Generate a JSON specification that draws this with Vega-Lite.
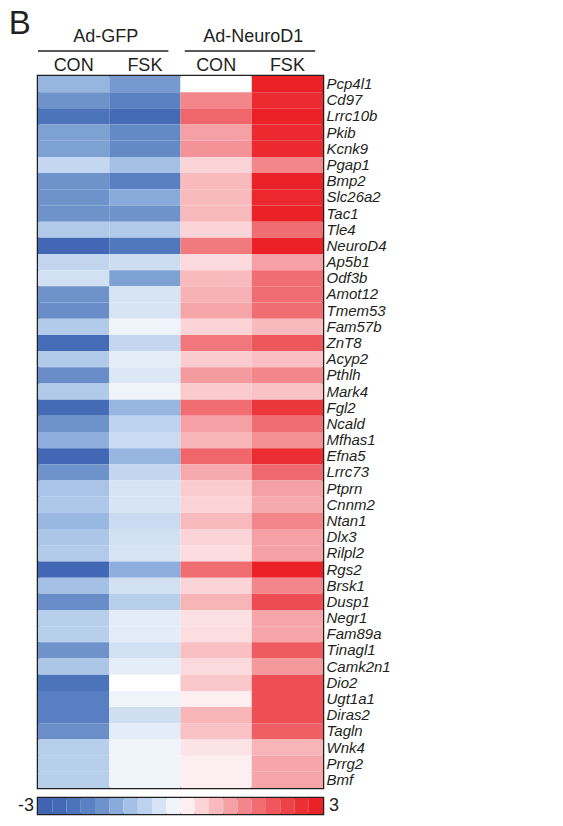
{
  "$schema": "https://vega.github.io/schema/vega-lite/v6.json",
  "padding": {"left": 8, "top": 8, "right": 0, "bottom": 0},
  "background": "white",
  "spacing": 5,
  "config": {
    "view": {"stroke": null},
    "font": "Liberation Sans",
    "text": {"color": "#231f20", "font": "Liberation Sans"}
  },
  "datasets": {
    "expr": [
      {"gene": "Pcp4l1", "GFP_CON": -1.2, "GFP_FSK": -1.56, "ND_CON": 0, "ND_FSK": 2.85},
      {"gene": "Cd97", "GFP_CON": -1.65, "GFP_FSK": -1.95, "ND_CON": 1.35, "ND_FSK": 2.65},
      {"gene": "Lrrc10b", "GFP_CON": -2.25, "GFP_FSK": -2.5, "ND_CON": 1.75, "ND_FSK": 2.85},
      {"gene": "Pkib", "GFP_CON": -1.47, "GFP_FSK": -1.8, "ND_CON": 1.05, "ND_FSK": 2.7},
      {"gene": "Kcnk9", "GFP_CON": -1.47, "GFP_FSK": -1.8, "ND_CON": 1.2, "ND_FSK": 2.7},
      {"gene": "Pgap1", "GFP_CON": -0.66, "GFP_FSK": -1.05, "ND_CON": 0.45, "ND_FSK": 1.35},
      {"gene": "Bmp2", "GFP_CON": -1.65, "GFP_FSK": -2.0, "ND_CON": 0.75, "ND_FSK": 2.85},
      {"gene": "Slc26a2", "GFP_CON": -1.65, "GFP_FSK": -1.35, "ND_CON": 0.75, "ND_FSK": 2.73},
      {"gene": "Tac1", "GFP_CON": -1.65, "GFP_FSK": -1.65, "ND_CON": 0.75, "ND_FSK": 2.85},
      {"gene": "Tle4", "GFP_CON": -0.9, "GFP_FSK": -0.9, "ND_CON": 0.45, "ND_FSK": 1.65},
      {"gene": "NeuroD4", "GFP_CON": -2.6, "GFP_FSK": -2.15, "ND_CON": 1.5, "ND_FSK": 2.85},
      {"gene": "Ap5b1", "GFP_CON": -0.7, "GFP_FSK": -0.57, "ND_CON": 0.39, "ND_FSK": 1.05},
      {"gene": "Odf3b", "GFP_CON": -0.51, "GFP_FSK": -1.47, "ND_CON": 0.75, "ND_FSK": 1.65},
      {"gene": "Amot12", "GFP_CON": -1.65, "GFP_FSK": -0.45, "ND_CON": 0.84, "ND_FSK": 1.65},
      {"gene": "Tmem53", "GFP_CON": -1.74, "GFP_FSK": -0.45, "ND_CON": 0.99, "ND_FSK": 1.65},
      {"gene": "Fam57b", "GFP_CON": -0.87, "GFP_FSK": -0.15, "ND_CON": 0.45, "ND_FSK": 0.75},
      {"gene": "ZnT8", "GFP_CON": -2.46, "GFP_FSK": -0.66, "ND_CON": 1.53, "ND_FSK": 1.95},
      {"gene": "Acyp2", "GFP_CON": -0.9, "GFP_FSK": -0.27, "ND_CON": 0.54, "ND_FSK": 0.69},
      {"gene": "Pthlh", "GFP_CON": -1.74, "GFP_FSK": -0.39, "ND_CON": 1.11, "ND_FSK": 1.35},
      {"gene": "Mark4", "GFP_CON": -0.9, "GFP_FSK": -0.15, "ND_CON": 0.57, "ND_FSK": 0.66},
      {"gene": "Fgl2", "GFP_CON": -2.5, "GFP_FSK": -1.2, "ND_CON": 1.65, "ND_FSK": 2.46},
      {"gene": "Ncald", "GFP_CON": -1.65, "GFP_FSK": -0.75, "ND_CON": 1.05, "ND_FSK": 1.65},
      {"gene": "Mfhas1", "GFP_CON": -1.29, "GFP_FSK": -0.6, "ND_CON": 0.81, "ND_FSK": 1.23},
      {"gene": "Efna5", "GFP_CON": -2.6, "GFP_FSK": -1.2, "ND_CON": 1.74, "ND_FSK": 2.61},
      {"gene": "Lrrc73", "GFP_CON": -1.65, "GFP_FSK": -0.69, "ND_CON": 0.93, "ND_FSK": 1.71},
      {"gene": "Ptprn", "GFP_CON": -0.99, "GFP_FSK": -0.45, "ND_CON": 0.54, "ND_FSK": 1.05},
      {"gene": "Cnnm2", "GFP_CON": -0.93, "GFP_FSK": -0.45, "ND_CON": 0.45, "ND_FSK": 0.93},
      {"gene": "Ntan1", "GFP_CON": -1.17, "GFP_FSK": -0.6, "ND_CON": 0.75, "ND_FSK": 1.35},
      {"gene": "Dlx3", "GFP_CON": -0.96, "GFP_FSK": -0.51, "ND_CON": 0.45, "ND_FSK": 1.05},
      {"gene": "Rilpl2", "GFP_CON": -0.87, "GFP_FSK": -0.45, "ND_CON": 0.36, "ND_FSK": 1.05},
      {"gene": "Rgs2", "GFP_CON": -2.6, "GFP_FSK": -1.29, "ND_CON": 1.65, "ND_FSK": 2.85},
      {"gene": "Brsk1", "GFP_CON": -1.05, "GFP_FSK": -0.51, "ND_CON": 0.45, "ND_FSK": 1.35},
      {"gene": "Dusp1", "GFP_CON": -1.74, "GFP_FSK": -0.81, "ND_CON": 0.81, "ND_FSK": 2.1},
      {"gene": "Negr1", "GFP_CON": -0.81, "GFP_FSK": -0.3, "ND_CON": 0.3, "ND_FSK": 0.99},
      {"gene": "Fam89a", "GFP_CON": -0.81, "GFP_FSK": -0.3, "ND_CON": 0.33, "ND_FSK": 0.99},
      {"gene": "Tinagl1", "GFP_CON": -1.65, "GFP_FSK": -0.51, "ND_CON": 0.69, "ND_FSK": 1.89},
      {"gene": "Camk2n1", "GFP_CON": -0.96, "GFP_FSK": -0.27, "ND_CON": 0.39, "ND_FSK": 1.14},
      {"gene": "Dio2", "GFP_CON": -2.25, "GFP_FSK": 0, "ND_CON": 0.6, "ND_FSK": 2.07},
      {"gene": "Ugt1a1", "GFP_CON": -2.01, "GFP_FSK": -0.15, "ND_CON": 0.15, "ND_FSK": 2.07},
      {"gene": "Diras2", "GFP_CON": -2.01, "GFP_FSK": -0.54, "ND_CON": 0.81, "ND_FSK": 2.07},
      {"gene": "Tagln", "GFP_CON": -1.71, "GFP_FSK": -0.3, "ND_CON": 0.66, "ND_FSK": 1.83},
      {"gene": "Wnk4", "GFP_CON": -0.81, "GFP_FSK": -0.15, "ND_CON": 0.27, "ND_FSK": 0.81},
      {"gene": "Prrg2", "GFP_CON": -0.81, "GFP_FSK": -0.15, "ND_CON": 0.15, "ND_FSK": 0.99},
      {"gene": "Bmf", "GFP_CON": -0.81, "GFP_FSK": -0.15, "ND_CON": 0.15, "ND_FSK": 0.99}
    ],
    "groups": [
      {"t": "Ad-GFP", "x": 0.95, "lvl": 1},
      {"t": "Ad-NeuroD1", "x": 3.02, "lvl": 1}
    ],
    "panel": [
      {"t": "B", "x": -0.41, "lvl": 1}
    ],
    "lines": [
      {"x": 0.0, "x2": 1.83, "lvl": 0},
      {"x": 2.06, "x2": 3.89, "lvl": 0}
    ],
    "bins": [
      {"lo": -3.0, "hi": -2.7, "mid": -2.85},
      {"lo": -2.7, "hi": -2.4, "mid": -2.55},
      {"lo": -2.4, "hi": -2.1, "mid": -2.25},
      {"lo": -2.1, "hi": -1.8, "mid": -1.95},
      {"lo": -1.8, "hi": -1.5, "mid": -1.65},
      {"lo": -1.5, "hi": -1.2, "mid": -1.35},
      {"lo": -1.2, "hi": -0.9, "mid": -1.05},
      {"lo": -0.9, "hi": -0.6, "mid": -0.75},
      {"lo": -0.6, "hi": -0.3, "mid": -0.45},
      {"lo": -0.3, "hi": 0.0, "mid": -0.15},
      {"lo": 0.0, "hi": 0.3, "mid": 0.15},
      {"lo": 0.3, "hi": 0.6, "mid": 0.45},
      {"lo": 0.6, "hi": 0.9, "mid": 0.75},
      {"lo": 0.9, "hi": 1.2, "mid": 1.05},
      {"lo": 1.2, "hi": 1.5, "mid": 1.35},
      {"lo": 1.5, "hi": 1.8, "mid": 1.65},
      {"lo": 1.8, "hi": 2.1, "mid": 1.95},
      {"lo": 2.1, "hi": 2.4, "mid": 2.25},
      {"lo": 2.4, "hi": 2.7, "mid": 2.55},
      {"lo": 2.7, "hi": 3.0, "mid": 2.85}
    ],
    "endsLeft": [{"t": "-3", "x": -3}],
    "endsRight": [{"t": "3", "x": 3}]
  },
  "vconcat": [
    {
      "spacing": 2,
      "vconcat": [
        {
          "width": 285,
          "height": 9,
          "layer": [
            {
              "data": {"name": "panel"},
              "mark": {"type": "text", "fontSize": 33, "baseline": "alphabetic", "align": "left", "dy": -8, "color": "#231f20"},
              "encoding": {
                "x": {"field": "x", "type": "quantitative", "scale": {"domain": [0, 4], "nice": false, "zero": false}, "axis": null},
                "y": {"field": "lvl", "type": "quantitative", "scale": {"domain": [0, 1], "nice": false}, "axis": null},
                "text": {"field": "t"}
              }
            },
            {
              "data": {"name": "groups"},
              "mark": {"type": "text", "fontSize": 18, "baseline": "alphabetic", "align": "center", "color": "#231f20"},
              "encoding": {
                "x": {"field": "x", "type": "quantitative"},
                "y": {"field": "lvl", "type": "quantitative"},
                "text": {"field": "t"}
              }
            },
            {
              "data": {"name": "lines"},
              "mark": {"type": "rule", "strokeWidth": 1.5, "color": "#231f20"},
              "encoding": {
                "x": {"field": "x", "type": "quantitative"},
                "x2": {"field": "x2"},
                "y": {"field": "lvl", "type": "quantitative"}
              }
            }
          ]
        },
        {
          "width": 285,
          "height": 712,
          "view": {"stroke": "#231f20", "strokeWidth": 2.5},
          "data": {"name": "expr"},
          "transform": [{"fold": ["GFP_CON", "GFP_FSK", "ND_CON", "ND_FSK"], "as": ["cond", "z"]}],
          "mark": {"type": "rect"},
          "encoding": {
            "x": {
              "field": "cond", "type": "nominal",
              "sort": ["GFP_CON", "GFP_FSK", "ND_CON", "ND_FSK"],
              "scale": {"paddingInner": 0, "paddingOuter": 0},
              "axis": {"orient": "top", "title": null, "labelAngle": 0, "domain": false, "ticks": false, "labelFontSize": 18, "labelPadding": 2, "labelExpr": "split(datum.value, '_')[1]", "labelColor": "#231f20", "labelFont": "Liberation Sans"}
            },
            "y": {
              "field": "gene", "type": "nominal", "sort": null,
              "scale": {"paddingInner": 0, "paddingOuter": 0},
              "axis": {"orient": "right", "title": null, "domain": false, "ticks": false, "labelFontSize": 15, "labelFontStyle": "italic", "labelPadding": 3, "labelColor": "#231f20", "labelFont": "Liberation Sans"}
            },
            "color": {
              "field": "z", "type": "quantitative",
              "scale": {
                "type": "linear", "interpolate": "rgb", "clamp": true,
                "domain": [-2.85, -2.55, -2.25, -1.95, -1.65, -1.35, -1.05, -0.75, -0.45, -0.15, 0, 0.15, 0.45, 0.75, 1.05, 1.35, 1.65, 1.95, 2.25, 2.55, 2.85],
                "range": ["#3e64b2", "#4369b5", "#4b74bb", "#5a82c2", "#6e92ca", "#88abdb", "#a4c1e5", "#bdd2ee", "#d6e4f4", "#eff4fb", "#ffffff", "#fdeef0", "#fbd4d7", "#f8babd", "#f5a0a4", "#f2868a", "#f06d72", "#ee575c", "#ec4347", "#eb3034", "#ea2228"]
              },
              "legend": null
            }
          }
        }
      ]
    },
    {
      "width": 285,
      "height": 16,
      "view": {"stroke": "#231f20", "strokeWidth": 2.5},
      "layer": [
        {
          "data": {"name": "bins"},
          "mark": {"type": "rect"},
          "encoding": {
            "x": {"field": "lo", "type": "quantitative", "scale": {"domain": [-3, 3], "nice": false, "zero": false}, "axis": null},
            "x2": {"field": "hi"},
            "color": {
              "field": "mid", "type": "quantitative",
              "scale": {
                "type": "linear", "interpolate": "rgb", "clamp": true,
                "domain": [-2.85, -2.55, -2.25, -1.95, -1.65, -1.35, -1.05, -0.75, -0.45, -0.15, 0, 0.15, 0.45, 0.75, 1.05, 1.35, 1.65, 1.95, 2.25, 2.55, 2.85],
                "range": ["#3e64b2", "#4369b5", "#4b74bb", "#5a82c2", "#6e92ca", "#88abdb", "#a4c1e5", "#bdd2ee", "#d6e4f4", "#eff4fb", "#ffffff", "#fdeef0", "#fbd4d7", "#f8babd", "#f5a0a4", "#f2868a", "#f06d72", "#ee575c", "#ec4347", "#eb3034", "#ea2228"]
              },
              "legend": null
            }
          }
        },
        {
          "data": {"name": "endsLeft"},
          "mark": {"type": "text", "align": "right", "baseline": "middle", "dx": -4, "fontSize": 18, "color": "#231f20"},
          "encoding": {
            "x": {"field": "x", "type": "quantitative"},
            "text": {"field": "t"}
          }
        },
        {
          "data": {"name": "endsRight"},
          "mark": {"type": "text", "align": "left", "baseline": "middle", "dx": 6, "fontSize": 18, "color": "#231f20"},
          "encoding": {
            "x": {"field": "x", "type": "quantitative"},
            "text": {"field": "t"}
          }
        }
      ]
    }
  ]
}
